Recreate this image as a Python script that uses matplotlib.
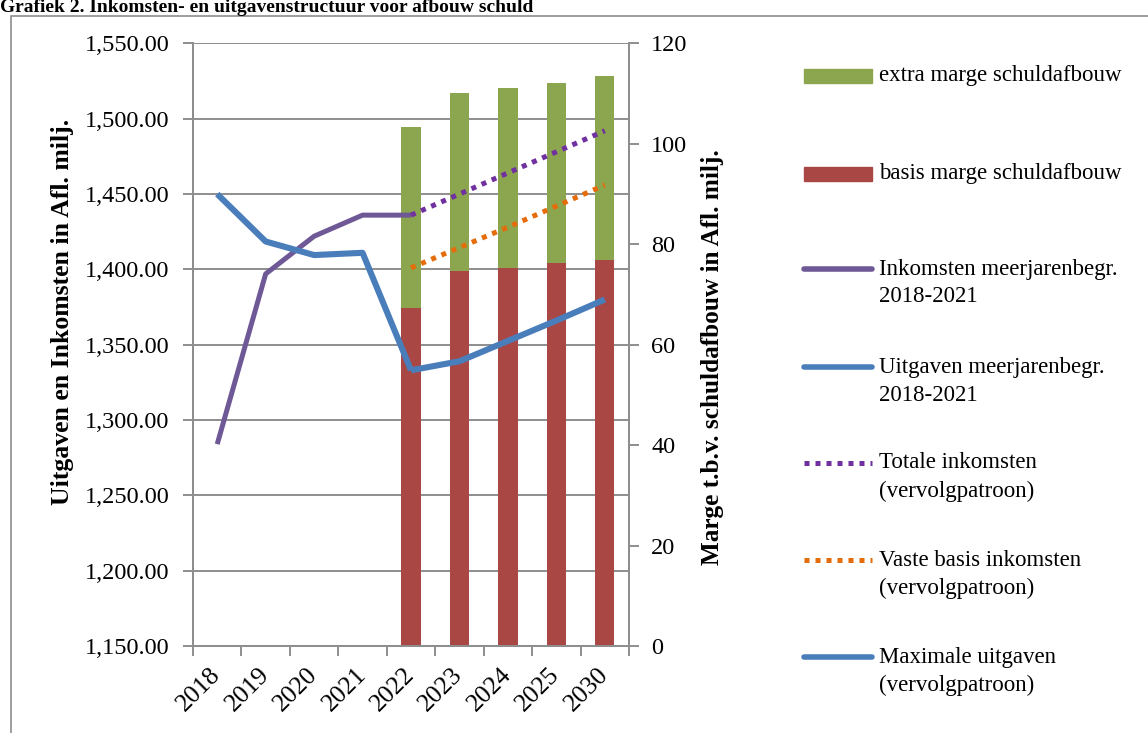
import numpy as np
import matplotlib
matplotlib.use('Agg')
import matplotlib.pyplot as plt
from matplotlib.lines import Line2D
from matplotlib.patches import Rectangle
from matplotlib.ticker import FuncFormatter, MultipleLocator, FixedLocator

plt.rcParams['font.family'] = ['Liberation Serif', 'DejaVu Serif']

# ============================================================
# DATA
# ============================================================
years = ['2018', '2019', '2020', '2021', '2022', '2023', '2024', '2025', '2030']

# left axis (Afl. milj.)
inkomsten_years = ['2018', '2019', '2020', '2021', '2022']
inkomsten = [1284, 1397, 1422, 1436, 1436]
uitgaven = [1450, 1418.5, 1409.5, 1411, 1333]

proj_years = ['2022', '2023', '2024', '2025', '2030']
totale_inkomsten = [1436, 1450, 1464, 1478, 1492]
vaste_inkomsten = [1401, 1414.5, 1428, 1442, 1456]
maximale_uitgaven = [1333, 1339, 1352.5, 1366, 1380]

# right axis (marge)
basis_marge = [67.4, 74.6, 75.3, 76.2, 76.9]
extra_marge = [36.0, 35.5, 35.9, 36.0, 36.6]

C_GREEN = '#8BA64E'
C_RED = '#A94745'
C_PURPLE = '#6F5896'
C_BLUE = '#4A7EBB'
C_DPURPLE = '#7030A0'
C_ORANGE = '#E46C0A'
C_GRID = '#8E8E8E'

W, H = 1148, 733
fig = plt.figure(figsize=(W / 100, H / 100), dpi=100)

def fx(px):
    return px / W

def fy(py):
    return 1 - py / H

ax = fig.add_axes([fx(193), fy(646), fx(629) - fx(193), fy(43.4) - fy(646)])
ax2 = ax.twinx()

pos = {y: i for i, y in enumerate(years)}
x_ink = [pos[y] for y in inkomsten_years]
x_proj = np.array([pos[y] for y in proj_years])

# left axis: grid + scale
ax.set_xlim(-0.5, len(years) - 0.5)
ax.set_ylim(1150, 1550)
ax.yaxis.set_major_locator(MultipleLocator(50))
ax.yaxis.set_major_formatter(FuncFormatter(lambda v, p: f'{v:,.2f}'))
ax.grid(axis='y', color=C_GRID, lw=1.4)
ax.set_axisbelow(True)

# right axis: bars
ax2.set_ylim(0, 120)
ax2.yaxis.set_major_locator(MultipleLocator(20))
ax2.bar(x_proj, basis_marge, width=0.4, color=C_RED, zorder=2)
ax2.bar(x_proj, extra_marge, width=0.4, bottom=basis_marge, color=C_GREEN, zorder=2)

# lines drawn on top of bars, using the left-axis scale
tr = ax.transData
ax2.plot(x_ink, inkomsten, color=C_PURPLE, lw=3.6, transform=tr, zorder=3,
         solid_joinstyle='round', solid_capstyle='butt')
ax2.plot(x_ink, uitgaven, color=C_BLUE, lw=4.4, transform=tr, zorder=3,
         solid_joinstyle='round', solid_capstyle='butt')
ax2.plot(x_proj, maximale_uitgaven, color=C_BLUE, lw=4.4, transform=tr, zorder=3,
         solid_joinstyle='round', solid_capstyle='butt')
ax2.plot(x_proj, totale_inkomsten, color=C_DPURPLE, lw=3.6, ls=(0, (1, 1.2)),
         dash_capstyle='butt', transform=tr, zorder=4)
ax2.plot(x_proj, vaste_inkomsten, color=C_ORANGE, lw=3.6, ls=(0, (1, 1.2)),
         dash_capstyle='butt', transform=tr, zorder=4)
ax2.set_ylim(0, 120)

# spines / ticks
for a in (ax, ax2):
    a.spines['top'].set_visible(False)
    for s in ('left', 'right', 'bottom'):
        a.spines[s].set_color(C_GRID)
        a.spines[s].set_linewidth(1.4)

ax.tick_params(axis='y', which='major', length=7, width=1.4, color=C_GRID,
               labelsize=17.5, pad=10)
ax2.tick_params(axis='y', which='major', length=7, width=1.4, color=C_GRID,
                labelsize=17.5, pad=9)

ax.set_xticks(range(len(years)))
ax.set_xticklabels(years, rotation=45, ha='right', va='center',
                   rotation_mode='anchor', fontsize=18.5)
ax.xaxis.set_minor_locator(FixedLocator(np.arange(-0.5, len(years), 1.0)))
ax.tick_params(axis='x', which='major', length=0, pad=18)
ax.tick_params(axis='x', which='minor', length=7, width=1.4, color=C_GRID)

# axis titles
fig.text(fx(63), fy(312), 'Uitgaven en Inkomsten in Afl. milj.', rotation=90,
         ha='center', va='center', fontsize=18.5, fontweight='bold')
fig.text(fx(712), fy(357), 'Marge t.b.v. schuldafbouw in Afl. milj.', rotation=90,
         ha='center', va='center', fontsize=18.2, fontweight='bold')

# chart title
fig.text(fx(0), fy(12), 'Grafiek 2. Inkomsten- en uitgavenstructuur voor afbouw schuld',
         ha='left', va='baseline', fontsize=14, fontweight='bold')

# frame around the chart
fig.add_artist(Rectangle((fx(11), fy(760)), 2, fy(16) - fy(760), transform=fig.transFigure,
                         fill=False, ec=C_GRID, lw=1.2))

# ============================================================
# LEGEND (manual, to match the stacked two-line layout)
# ============================================================
hx0, hx1, tx = 804, 872, 879
legend_items = [
    ('rect', C_GREEN, 76, 'extra marge schuldafbouw'),
    ('rect', C_RED, 174, 'basis marge schuldafbouw'),
    ('line', C_PURPLE, 269, 'Inkomsten meerjarenbegr.\n2018-2021'),
    ('line', C_BLUE, 367, 'Uitgaven meerjarenbegr.\n2018-2021'),
    ('dot', C_DPURPLE, 463, 'Totale inkomsten\n(vervolgpatroon)'),
    ('dot', C_ORANGE, 560, 'Vaste basis inkomsten\n(vervolgpatroon)'),
    ('line', C_BLUE, 657, 'Maximale uitgaven\n(vervolgpatroon)'),
]
for kind, col, yc, label in legend_items:
    if kind == 'rect':
        fig.add_artist(Rectangle((fx(hx0), fy(yc + 6.5)), fx(hx1) - fx(hx0),
                                 fy(yc - 6.5) - fy(yc + 6.5),
                                 transform=fig.transFigure, color=col))
    elif kind == 'line':
        fig.add_artist(Line2D([fx(hx0), fx(hx1)], [fy(yc), fy(yc)], transform=fig.transFigure,
                              color=col, lw=4.0, solid_capstyle='round'))
    else:
        fig.add_artist(Line2D([fx(hx0), fx(hx1)], [fy(yc), fy(yc)], transform=fig.transFigure,
                              color=col, lw=3.6, ls=(0, (1, 1.2)), dash_capstyle='butt'))
    for k, ln in enumerate(label.split('\n')):
        fig.text(fx(tx), fy(yc + k * 28), ln, ha='left', va='center', fontsize=16.5)

fig.savefig('out.png', dpi=100)
plt.close(fig)
